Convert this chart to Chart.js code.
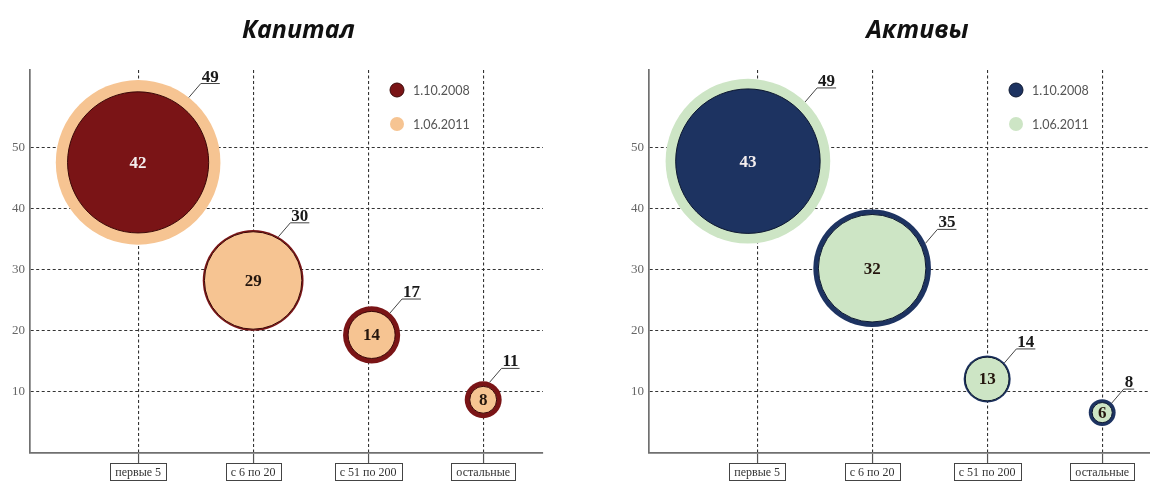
<!DOCTYPE html>
<html>
<head>
<meta charset="utf-8">
<script src="https://cdn.jsdelivr.net/npm/chart.js@4"></script>
<style>
  html, body { margin: 0; padding: 0; background: #fff; overflow: hidden; }
  body { width: 1150px; height: 486px; position: relative; }
  canvas { position: absolute; top: 0; }
  #capitalChart { left: 0; }
  #assetsChart { left: 619px; }
</style>
</head>
<body>
<canvas id="capitalChart" width="596" height="486"></canvas>
<canvas id="assetsChart" width="596" height="486"></canvas>
<script>
// Groups of banks and the two report dates
const categories = ['первые 5', 'с 6 по 20', 'с 51 по 200', 'остальные'];
const seriesNames = ['1.10.2008', '1.06.2011'];
const yTicks = [10, 20, 30, 40, 50];

// Капитал
const capital2008 = [42, 30, 17, 11];
const capital2011 = [49, 29, 14, 8];
const capitalX = [1, 2, 3.03, 4];
const capitalY = [47.5, 28.2, 19.3, 8.7];

// Активы
const assets2008 = [43, 35, 14, 8];
const assets2011 = [49, 32, 13, 6];
const assetsX = [0.92, 2, 3, 4];
const assetsY = [47.7, 30.2, 12.1, 6.6];

// bubble radius in px per unit of value
const R_SCALE = 1.68;

const serifFont = '"Liberation Serif", "DejaVu Serif", serif';

// chart heading, a bit right of the plot centre
const heading = {
  id: 'heading',
  afterDraw(chart, args, opts) {
    const ctx = chart.ctx;
    const area = chart.chartArea;
    ctx.save();
    ctx.font = 'italic bold 25px "Open Sans", sans-serif';
    ctx.fillStyle = '#111';
    ctx.textAlign = 'center';
    ctx.textBaseline = 'alphabetic';
    ctx.fillText(opts.text, (area.left + area.right) / 2 + 12, 38);
    ctx.restore();
  }
};

// numbers inside the bubbles and the underlined callouts for the bigger value
const bubbleLabels = {
  id: 'bubbleLabels',
  afterDatasetsDraw(chart, args, opts) {
    const ctx = chart.ctx;
    const outer = chart.getDatasetMeta(0).data;
    const inner = chart.getDatasetMeta(1).data;
    ctx.save();
    ctx.font = 'bold 17px ' + serifFont;
    outer.forEach((pt, i) => {
      const a = opts.first[i], b = opts.second[i];
      const small = Math.min(a, b), big = Math.max(a, b);
      const innerDark = a <= b; // first series is the dark one
      // value inside
      ctx.textAlign = 'center';
      ctx.textBaseline = 'middle';
      ctx.fillStyle = innerDark ? opts.lightText : opts.darkText;
      ctx.fillText(String(small), inner[i].x, inner[i].y + 1);
      // leader line and underlined value
      const ang = opts.angles[i] * Math.PI / 180;
      const r = big * R_SCALE;
      const sx = pt.x + Math.cos(ang) * r;
      const sy = pt.y + Math.sin(ang) * r;
      const ex = sx + 12, ey = sy - 14;
      const w = ctx.measureText(String(big)).width + 2;
      ctx.strokeStyle = '#444';
      ctx.lineWidth = 1;
      ctx.beginPath();
      ctx.moveTo(sx, sy);
      ctx.lineTo(ex, ey);
      ctx.lineTo(ex + w, ey);
      ctx.stroke();
      ctx.fillStyle = '#1a1a1a';
      ctx.textBaseline = 'alphabetic';
      ctx.fillText(String(big), ex + w / 2, ey - 2);
    });
    ctx.restore();
  }
};

// legend inside the plot, top right
const dotLegend = {
  id: 'dotLegend',
  afterDraw(chart, args, opts) {
    const ctx = chart.ctx;
    const area = chart.chartArea;
    const x = area.left + 367;
    ctx.save();
    ctx.font = '12.5px Lato, sans-serif';
    ctx.textAlign = 'left';
    ctx.textBaseline = 'middle';
    seriesNames.forEach((name, i) => {
      const y = area.top + 20 + i * 34;
      ctx.beginPath();
      ctx.arc(x, y, 7, 0, Math.PI * 2);
      ctx.fillStyle = opts.colors[i];
      ctx.fill();
      if (i === 0) {
        ctx.strokeStyle = opts.border;
        ctx.lineWidth = 1;
        ctx.stroke();
      }
      ctx.fillStyle = '#555';
      ctx.fillText(name, x + 16, y + 1);
    });
    ctx.restore();
  }
};

// boxes round the category labels
const labelBoxes = {
  id: 'labelBoxes',
  afterDraw(chart) {
    const ctx = chart.ctx;
    const xs = chart.scales.x;
    const top = chart.chartArea.bottom + 10;
    ctx.save();
    ctx.font = '12px ' + serifFont;
    ctx.strokeStyle = '#444';
    ctx.lineWidth = 1;
    xs.ticks.forEach((t, i) => {
      const px = Math.round(xs.getPixelForValue(t.value));
      const w = ctx.measureText(categories[i]).width + 10;
      ctx.strokeRect(Math.round(px - w / 2) + 0.5, top + 0.5, Math.round(w), 17);
    });
    ctx.restore();
  }
};

function makeChart(id, title, first, second, xs, ys, colors, angles) {
  const bigFirst = first.map((v, i) => v > second[i]);
  const outerData = xs.map((x, i) => ({ x: x, y: ys[i], r: Math.max(first[i], second[i]) * R_SCALE }));
  const innerData = xs.map((x, i) => ({ x: x, y: ys[i], r: Math.min(first[i], second[i]) * R_SCALE }));

  const axisBorder = { display: true, color: '#707070', width: 1.7, dash: [3, 2.5] };

  return new Chart(document.getElementById(id), {
    type: 'bubble',
    data: {
      datasets: [{
        label: 'outer',
        data: outerData,
        backgroundColor: bigFirst.map(b => b ? colors.dark : colors.light),
        borderWidth: 0,
        order: 1,
      }, {
        label: 'inner',
        data: innerData,
        backgroundColor: bigFirst.map(b => b ? colors.light : colors.dark),
        borderColor: colors.border,
        borderWidth: 1,
        order: 0,
      }]
    },
    options: {
      responsive: false,
      animation: false,
      events: [],
      layout: { autoPadding: false, padding: { top: 70, right: 53 } },
      plugins: {
        legend: { display: false },
        tooltip: { enabled: false },
        heading: { text: title },
        bubbleLabels: {
          first: first, second: second, angles: angles,
          lightText: '#f4eeee', darkText: '#24160e',
        },
        dotLegend: { colors: [colors.dark, colors.light], border: colors.border },
      },
      scales: {
        x: {
          type: 'linear',
          min: 0.06,
          max: 4.52,
          afterBuildTicks: s => { s.ticks = categories.map((c, i) => ({ value: i + 1 })); },
          afterFit: s => { s.height = 33; },
          ticks: {
            callback: (v, i) => categories[i],
            autoSkip: false,
            maxRotation: 0,
            padding: 3,
            color: '#333',
            font: { family: serifFont, size: 12 },
          },
          grid: {
            color: '#333',
            lineWidth: 1.1,
            drawTicks: true,
            tickLength: 10,
            tickColor: '#555',
            tickWidth: 1.2,
            tickBorderDash: [],
          },
          border: axisBorder,
        },
        y: {
          type: 'linear',
          min: 0,
          max: 62.6,
          afterBuildTicks: s => { s.ticks = yTicks.map(v => ({ value: v })); },
          afterFit: s => { s.width = 30; },
          ticks: {
            padding: 5,
            color: '#666',
            font: { family: serifFont, size: 13 },
          },
          grid: { color: '#333', lineWidth: 1.1, drawTicks: false },
          border: axisBorder,
        }
      }
    },
    plugins: [heading, bubbleLabels, dotLegend, labelBoxes]
  });
}

makeChart('capitalChart', 'Капитал', capital2008, capital2011, capitalX, capitalY,
  { dark: '#7a1416', light: '#f6c492', border: '#3a0707' },
  [-52, -60, -50, -70]);

makeChart('assetsChart', 'Активы', assets2008, assets2011, assetsX, assetsY,
  { dark: '#1d3361', light: '#cde5c5', border: '#0c1730' },
  [-46, -25, -43, -45]);
</script>
</body>
</html>
